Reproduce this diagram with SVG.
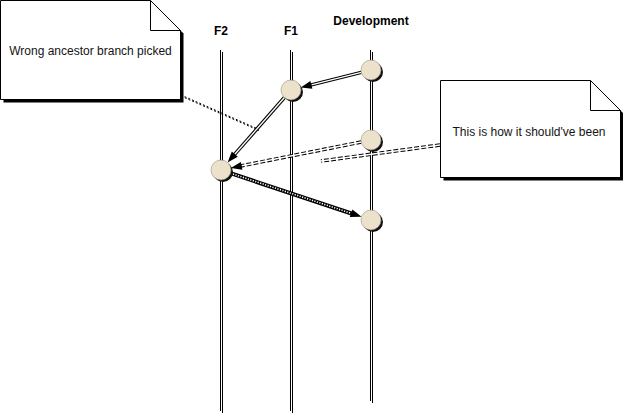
<svg xmlns="http://www.w3.org/2000/svg" width="623" height="415" viewBox="0 0 623 415">
<style>
.lbl{font-family:"Liberation Sans",Arial,sans-serif;font-size:12px;font-weight:bold;fill:#000;text-anchor:middle}
.ntxt{font-family:"Liberation Sans",Arial,sans-serif;font-size:12px;fill:#141414;text-anchor:middle}
.life{stroke:#000;stroke-width:1;fill:none}
.note{fill:#fff;stroke:#000;stroke-width:1}
.nshadow{fill:#000}
.fold{fill:none;stroke:#000;stroke-width:1}
.dot{fill:#ECE2CC;stroke:#9a907c;stroke-width:0.6}
.dshadow{fill:#111}
.outer{stroke:#000;stroke-width:3.5;fill:none}
.inner{stroke:#fff;stroke-width:1.4;fill:none}
.dash{stroke-dasharray:5 2}
.head{fill:#000}
.hatch{stroke:#000;stroke-width:4;fill:none}
.hatchin{stroke:#fff;stroke-width:1.6;stroke-dasharray:1.2 1.4;fill:none}
.dotted{stroke:#000;stroke-width:1;stroke-dasharray:2 2;fill:none}
</style>
<rect width="623" height="415" fill="#fff"/>
<g id="lifelines">
<g id="lifeline-F2">
<text class="lbl" x="221" y="35">F2</text>
<line class="life" x1="220.5" y1="50" x2="220.5" y2="411"/>
<line class="life" x1="222.5" y1="52" x2="222.5" y2="413"/>
</g>
<g id="lifeline-F1">
<text class="lbl" x="291" y="35">F1</text>
<line class="life" x1="290.5" y1="50" x2="290.5" y2="411"/>
<line class="life" x1="292.5" y1="52" x2="292.5" y2="413"/>
</g>
<g id="lifeline-Development">
<text class="lbl" x="371" y="25">Development</text>
<line class="life" x1="370.5" y1="50" x2="370.5" y2="401"/>
<line class="life" x1="372.5" y1="52" x2="372.5" y2="403"/>
</g>
</g>
<g id="note-wrong">
<path class="nshadow" d="M3.5,3.5 H153.5 L183.5,33.5 V102.5 H3.5 Z"/>
<path class="note" d="M0.5,0.5 H150.5 L180.5,30.5 V99.5 H0.5 Z"/>
<path class="fold" d="M150.5,0.5 V30.5 H180.5"/>
<text class="ntxt" x="90.5" y="55">Wrong ancestor branch picked</text>
</g>
<g id="note-should">
<path class="nshadow" d="M443.5,83.5 H593.5 L623.5,113.5 V180.5 H443.5 Z"/>
<path class="note" d="M440.5,80.5 H590.5 L620.5,110.5 V177.5 H440.5 Z"/>
<path class="fold" d="M590.5,80.5 V110.5 H620.5"/>
<text class="ntxt" x="529" y="135.5">This is how it should've been</text>
</g>
<g id="connectors">
<g id="note1-link">
<line class="dotted" x1="181" y1="95" x2="258" y2="129"/>
<line class="dotted" x1="182" y1="96.5" x2="259" y2="130.5" stroke-dashoffset="1"/>
</g>
<g id="note2-link">
<line class="outer dash" x1="440" y1="145" x2="321" y2="161"/>
<line class="inner" x1="440" y1="145" x2="321" y2="161"/>
</g>
<g id="dev1-to-f1">
<line class="outer" x1="361.3" y1="72.4" x2="309.4" y2="85.4"/>
<line class="inner" x1="361.3" y1="72.4" x2="311.4" y2="84.9"/>
<polygon class="head" points="300.7,87.6 310.4,81.0 312.4,88.8"/>
</g>
<g id="f1-to-f2">
<line class="outer" x1="284.4" y1="97.5" x2="233.5" y2="155.7"/>
<line class="inner" x1="284.4" y1="97.5" x2="234.8" y2="154.2"/>
<polygon class="head" points="227.6,162.5 231.8,151.6 237.8,156.8"/>
</g>
<g id="f2-to-dev3">
<line class="hatch" x1="230.5" y1="173.2" x2="353" y2="214"/>
<line class="hatchin" x1="230.5" y1="173.2" x2="351.1" y2="213.3"/>
<polygon class="head" points="361.5,216.8 349.8,217.1 352.4,209.5"/>
</g>
<g id="dev2-to-f2">
<line class="outer dash" x1="361.2" y1="142" x2="239.6" y2="166.2"/>
<line class="inner" x1="361.2" y1="142" x2="241.6" y2="165.8"/>
<polygon class="head" points="230.8,168 240.8,161.9 242.4,169.7"/>
</g>
</g>
<g id="nodes">
<g id="node-dev1"><circle class="dshadow" cx="373" cy="72" r="10"/><circle class="dot" cx="371" cy="70" r="10"/></g>
<g id="node-f1"><circle class="dshadow" cx="293" cy="92" r="10"/><circle class="dot" cx="291" cy="90" r="10"/></g>
<g id="node-f2"><circle class="dshadow" cx="223" cy="172" r="10"/><circle class="dot" cx="221" cy="170" r="10"/></g>
<g id="node-dev2"><circle class="dshadow" cx="373" cy="142" r="10"/><circle class="dot" cx="371" cy="140" r="10"/></g>
<g id="node-dev3"><circle class="dshadow" cx="373" cy="222" r="10"/><circle class="dot" cx="371" cy="220" r="10"/></g>
</g>
</svg>
